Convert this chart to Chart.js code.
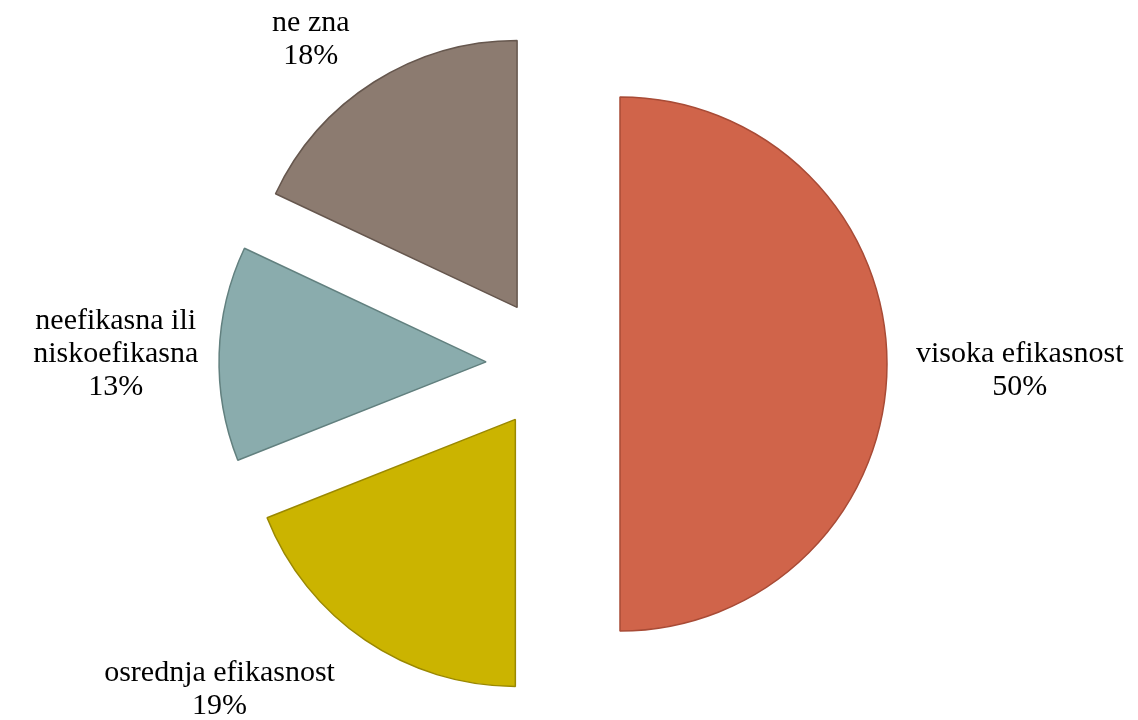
<!DOCTYPE html>
<html>
<head>
<meta charset="utf-8">
<script src="https://cdn.jsdelivr.net/npm/chart.js@4/dist/chart.umd.min.js"></script>
<style>
  html, body { margin: 0; padding: 0; background: #ffffff; }
  #wrap { width: 1138px; height: 720px; }
</style>
</head>
<body>
<div id="wrap"><canvas id="pie"></canvas></div>
<script>
var categories = ["visoka efikasnost", "osrednja efikasnost", "neefikasna ili niskoefikasna", "ne zna"];
var labelLines = [["visoka efikasnost"], ["osrednja efikasnost"], ["neefikasna ili", "niskoefikasna"], ["ne zna"]];
var shares = [50, 19, 13, 18];

var fillColors = ["#d0644a", "#cbb400", "#8aacad", "#8c7b70"];
var borderColors = ["#a84b36", "#9a8800", "#62807f", "#66574e"];

// how far each slice is pulled out of the pie, in pixels
var explode = 67;
var pieRadius = 267;
var labelFont = "30px 'Liberation Serif', 'DejaVu Serif', serif";
var lineHeight = 33;
// small hand nudges so the labels sit where the original put them
var labelNudge = [[15, 7], [-73, 11], [-7, 3], [-35, -3]];

// chart.js v4 "offset" also grows the arc, so pull the slices out by hand instead
var explodeSlices = {
  id: "explodeSlices",
  beforeDatasetDraw: function (chart, args) {
    var c = chart.ctx;
    args.meta.data.forEach(function (arc) {
      var mid = (arc.startAngle + arc.endAngle) / 2;
      c.save();
      c.translate(Math.cos(mid) * explode, Math.sin(mid) * explode);
      arc.draw(c, chart.chartArea);
      c.restore();
    });
    return false;
  }
};

var pieLabels = {
  id: "pieLabels",
  afterDatasetsDraw: function (chart) {
    var c = chart.ctx;
    var arcs = chart.getDatasetMeta(0).data;
    c.save();
    c.font = labelFont;
    c.fillStyle = "#000000";
    c.textAlign = "center";
    c.textBaseline = "middle";
    arcs.forEach(function (arc, i) {
      var mid = (arc.startAngle + arc.endAngle) / 2;
      var dx = Math.cos(mid), dy = Math.sin(mid);
      var lines = labelLines[i].concat([shares[i] + "%"]);
      var w = 0;
      lines.forEach(function (l) { w = Math.max(w, c.measureText(l).width); });
      var h = lines.length * lineHeight;
      var reach = arc.outerRadius + explode + 14;
      var cx = arc.x + dx * reach + dx * w / 2 + labelNudge[i][0];
      var cy = arc.y + dy * reach + dy * h / 2 + labelNudge[i][1];
      lines.forEach(function (l, k) {
        c.fillText(l, cx, cy - h / 2 + lineHeight * (k + 0.5));
      });
    });
    c.restore();
  }
};

new Chart(document.getElementById("pie"), {
  type: "pie",
  data: {
    labels: categories,
    datasets: [{
      data: shares,
      backgroundColor: fillColors,
      borderColor: borderColors,
      borderWidth: 1.5,
      hoverOffset: 0
    }]
  },
  options: {
    responsive: true,
    maintainAspectRatio: false,
    animation: false,
    radius: pieRadius,
    layout: { padding: { left: 0, right: 32, top: 8, bottom: 0 } },
    plugins: {
      legend: { display: false },
      tooltip: { enabled: false }
    },
    events: []
  },
  plugins: [explodeSlices, pieLabels]
});
</script>
</body>
</html>
